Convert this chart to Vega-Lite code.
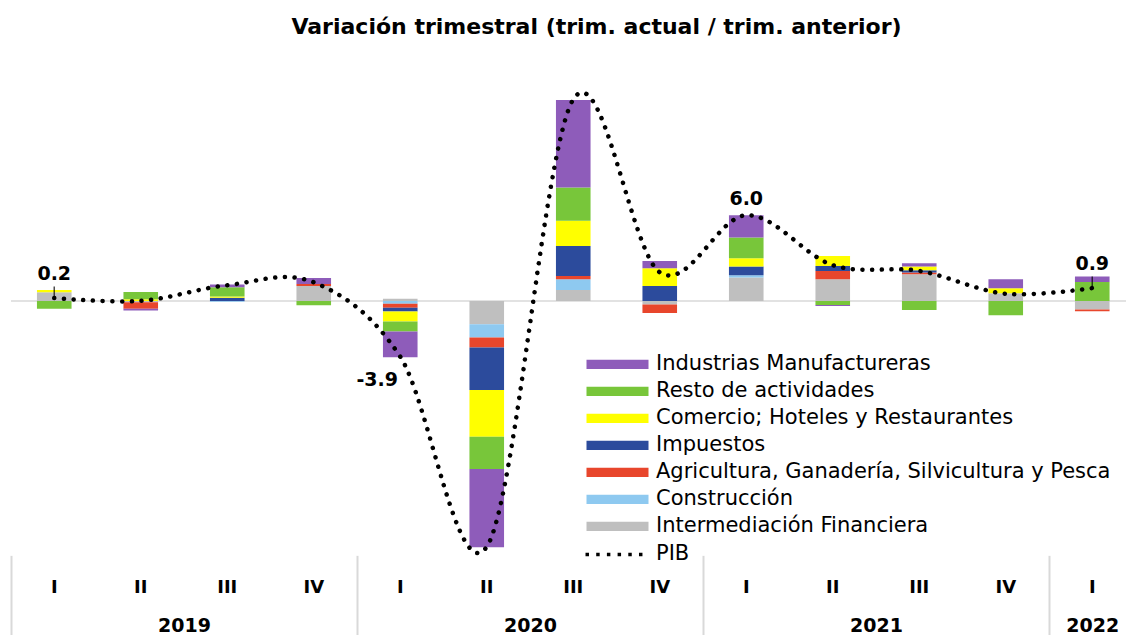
{
  "$schema": "https://vega.github.io/schema/vega-lite/v6.json",
  "autosize": {"type": "none"},
  "width": 1115,
  "height": 476,
  "padding": {"left": 11, "top": 79.35, "right": 0, "bottom": 79.65},
  "background": "white",
  "title": {"text": "Variación trimestral (trim. actual / trim. anterior)", "font": "DejaVu Sans", "fontSize": 22, "fontWeight": "bold", "color": "black", "anchor": "middle", "dx": 28, "offset": 23, "baseline": "alphabetic"},
  "config": {"view": {"stroke": null}, "font": "DejaVu Sans"},
  "datasets": {
    "componentes": [
      {"trimestre": "2019-I", "sector": "Intermediación Financiera", "valor": 0.6, "orden": 1},
      {"trimestre": "2019-I", "sector": "Comercio; Hoteles y Restaurantes", "valor": 0.17, "orden": 5},
      {"trimestre": "2019-I", "sector": "Resto de actividades", "valor": -0.55, "orden": 6},
      {"trimestre": "2019-II", "sector": "Comercio; Hoteles y Restaurantes", "valor": 0.12, "orden": 5},
      {"trimestre": "2019-II", "sector": "Resto de actividades", "valor": 0.5, "orden": 6},
      {"trimestre": "2019-II", "sector": "Intermediación Financiera", "valor": -0.1, "orden": 1},
      {"trimestre": "2019-II", "sector": "Agricultura, Ganadería, Silvicultura y Pesca", "valor": -0.45, "orden": 3},
      {"trimestre": "2019-II", "sector": "Industrias Manufactureras", "valor": -0.12, "orden": 7},
      {"trimestre": "2019-III", "sector": "Impuestos", "valor": 0.22, "orden": 4},
      {"trimestre": "2019-III", "sector": "Comercio; Hoteles y Restaurantes", "valor": 0.08, "orden": 5},
      {"trimestre": "2019-III", "sector": "Resto de actividades", "valor": 0.65, "orden": 6},
      {"trimestre": "2019-III", "sector": "Industrias Manufactureras", "valor": 0.2, "orden": 7},
      {"trimestre": "2019-III", "sector": "Construcción", "valor": -0.05, "orden": 2},
      {"trimestre": "2019-IV", "sector": "Intermediación Financiera", "valor": 1.05, "orden": 1},
      {"trimestre": "2019-IV", "sector": "Agricultura, Ganadería, Silvicultura y Pesca", "valor": 0.14, "orden": 3},
      {"trimestre": "2019-IV", "sector": "Industrias Manufactureras", "valor": 0.42, "orden": 7},
      {"trimestre": "2019-IV", "sector": "Resto de actividades", "valor": -0.3, "orden": 6},
      {"trimestre": "2020-I", "sector": "Intermediación Financiera", "valor": 0.15, "orden": 1},
      {"trimestre": "2020-I", "sector": "Construcción", "valor": -0.2, "orden": 2},
      {"trimestre": "2020-I", "sector": "Agricultura, Ganadería, Silvicultura y Pesca", "valor": -0.28, "orden": 3},
      {"trimestre": "2020-I", "sector": "Impuestos", "valor": -0.26, "orden": 4},
      {"trimestre": "2020-I", "sector": "Comercio; Hoteles y Restaurantes", "valor": -0.7, "orden": 5},
      {"trimestre": "2020-I", "sector": "Resto de actividades", "valor": -0.7, "orden": 6},
      {"trimestre": "2020-I", "sector": "Industrias Manufactureras", "valor": -1.8, "orden": 7},
      {"trimestre": "2020-II", "sector": "Intermediación Financiera", "valor": -1.63, "orden": 1},
      {"trimestre": "2020-II", "sector": "Construcción", "valor": -0.93, "orden": 2},
      {"trimestre": "2020-II", "sector": "Agricultura, Ganadería, Silvicultura y Pesca", "valor": -0.7, "orden": 3},
      {"trimestre": "2020-II", "sector": "Impuestos", "valor": -2.98, "orden": 4},
      {"trimestre": "2020-II", "sector": "Comercio; Hoteles y Restaurantes", "valor": -3.26, "orden": 5},
      {"trimestre": "2020-II", "sector": "Resto de actividades", "valor": -2.26, "orden": 6},
      {"trimestre": "2020-II", "sector": "Industrias Manufactureras", "valor": -5.48, "orden": 7},
      {"trimestre": "2020-III", "sector": "Intermediación Financiera", "valor": 0.77, "orden": 1},
      {"trimestre": "2020-III", "sector": "Construcción", "valor": 0.75, "orden": 2},
      {"trimestre": "2020-III", "sector": "Agricultura, Ganadería, Silvicultura y Pesca", "valor": 0.23, "orden": 3},
      {"trimestre": "2020-III", "sector": "Impuestos", "valor": 2.1, "orden": 4},
      {"trimestre": "2020-III", "sector": "Comercio; Hoteles y Restaurantes", "valor": 1.75, "orden": 5},
      {"trimestre": "2020-III", "sector": "Resto de actividades", "valor": 2.33, "orden": 6},
      {"trimestre": "2020-III", "sector": "Industrias Manufactureras", "valor": 6.13, "orden": 7},
      {"trimestre": "2020-IV", "sector": "Intermediación Financiera", "valor": -0.25, "orden": 1},
      {"trimestre": "2020-IV", "sector": "Agricultura, Ganadería, Silvicultura y Pesca", "valor": -0.6, "orden": 3},
      {"trimestre": "2020-IV", "sector": "Impuestos", "valor": 1.05, "orden": 4},
      {"trimestre": "2020-IV", "sector": "Comercio; Hoteles y Restaurantes", "valor": 1.24, "orden": 5},
      {"trimestre": "2020-IV", "sector": "Industrias Manufactureras", "valor": 0.51, "orden": 7},
      {"trimestre": "2021-I", "sector": "Intermediación Financiera", "valor": 1.63, "orden": 1},
      {"trimestre": "2021-I", "sector": "Construcción", "valor": 0.16, "orden": 2},
      {"trimestre": "2021-I", "sector": "Impuestos", "valor": 0.61, "orden": 4},
      {"trimestre": "2021-I", "sector": "Comercio; Hoteles y Restaurantes", "valor": 0.58, "orden": 5},
      {"trimestre": "2021-I", "sector": "Resto de actividades", "valor": 1.45, "orden": 6},
      {"trimestre": "2021-I", "sector": "Industrias Manufactureras", "valor": 1.56, "orden": 7},
      {"trimestre": "2021-II", "sector": "Intermediación Financiera", "valor": 1.52, "orden": 1},
      {"trimestre": "2021-II", "sector": "Agricultura, Ganadería, Silvicultura y Pesca", "valor": 0.58, "orden": 3},
      {"trimestre": "2021-II", "sector": "Impuestos", "valor": 0.35, "orden": 4},
      {"trimestre": "2021-II", "sector": "Comercio; Hoteles y Restaurantes", "valor": 0.7, "orden": 5},
      {"trimestre": "2021-II", "sector": "Resto de actividades", "valor": -0.28, "orden": 6},
      {"trimestre": "2021-II", "sector": "Industrias Manufactureras", "valor": -0.07, "orden": 7},
      {"trimestre": "2021-III", "sector": "Intermediación Financiera", "valor": 1.86, "orden": 1},
      {"trimestre": "2021-III", "sector": "Agricultura, Ganadería, Silvicultura y Pesca", "valor": 0.12, "orden": 3},
      {"trimestre": "2021-III", "sector": "Impuestos", "valor": 0.16, "orden": 4},
      {"trimestre": "2021-III", "sector": "Comercio; Hoteles y Restaurantes", "valor": 0.26, "orden": 5},
      {"trimestre": "2021-III", "sector": "Industrias Manufactureras", "valor": 0.23, "orden": 7},
      {"trimestre": "2021-III", "sector": "Resto de actividades", "valor": -0.63, "orden": 6},
      {"trimestre": "2021-IV", "sector": "Intermediación Financiera", "valor": 0.54, "orden": 1},
      {"trimestre": "2021-IV", "sector": "Comercio; Hoteles y Restaurantes", "valor": 0.35, "orden": 5},
      {"trimestre": "2021-IV", "sector": "Industrias Manufactureras", "valor": 0.63, "orden": 7},
      {"trimestre": "2021-IV", "sector": "Resto de actividades", "valor": -1.0, "orden": 6},
      {"trimestre": "2022-I", "sector": "Resto de actividades", "valor": 1.33, "orden": 6},
      {"trimestre": "2022-I", "sector": "Industrias Manufactureras", "valor": 0.37, "orden": 7},
      {"trimestre": "2022-I", "sector": "Intermediación Financiera", "valor": -0.6, "orden": 1},
      {"trimestre": "2022-I", "sector": "Agricultura, Ganadería, Silvicultura y Pesca", "valor": -0.12, "orden": 3}
    ],
    "pib": [
      {"trimestre": "2019-I", "serie": "PIB", "pib": 0.2, "etiqueta": "0.2"},
      {"trimestre": "2019-II", "serie": "PIB", "pib": 0.0},
      {"trimestre": "2019-III", "serie": "PIB", "pib": 1.1},
      {"trimestre": "2019-IV", "serie": "PIB", "pib": 1.3},
      {"trimestre": "2020-I", "serie": "PIB", "pib": -3.9, "etiqueta": "-3.9"},
      {"trimestre": "2020-II", "serie": "PIB", "pib": -17.2},
      {"trimestre": "2020-III", "serie": "PIB", "pib": 14.1},
      {"trimestre": "2020-IV", "serie": "PIB", "pib": 2.0},
      {"trimestre": "2021-I", "serie": "PIB", "pib": 6.0, "etiqueta": "6.0"},
      {"trimestre": "2021-II", "serie": "PIB", "pib": 2.5},
      {"trimestre": "2021-III", "serie": "PIB", "pib": 2.1},
      {"trimestre": "2021-IV", "serie": "PIB", "pib": 0.5},
      {"trimestre": "2022-I", "serie": "PIB", "pib": 0.9, "etiqueta": "0.9"}
    ],
    "anios": [
      {"anio": "2019", "centro": 2},
      {"anio": "2020", "centro": 6},
      {"anio": "2021", "centro": 10},
      {"anio": "2022", "centro": 12.5}
    ]
  },
  "layer": [
    {
      "data": {"values": [{}]},
      "mark": {"type": "rule", "color": "#d9d9d9", "strokeWidth": 1.5},
      "encoding": {"y": {"datum": 0, "type": "quantitative", "scale": {"domain": [-17.8, 15.5], "nice": false, "zero": false}, "axis": null}}
    },
    {
      "data": {"name": "componentes"},
      "mark": {"type": "bar"},
      "encoding": {
        "x": {
          "field": "trimestre", "type": "nominal",
          "scale": {"domain": ["2019-I","2019-II","2019-III","2019-IV","2020-I","2020-II","2020-III","2020-IV","2021-I","2021-II","2021-III","2021-IV","2022-I"], "range": [0, 1124.5], "paddingInner": 0.6, "paddingOuter": 0.3},
          "axis": {"orient": "bottom", "title": null, "domain": false, "ticks": false, "labelExpr": "split(datum.value, '-')[1]", "labelAngle": 0, "labelFontSize": 18, "labelFontWeight": "bold", "labelColor": "black", "labelPadding": 32, "labelBaseline": "middle"}
        },
        "y": {"field": "valor", "type": "quantitative", "stack": "zero"},
        "color": {
          "field": "sector", "type": "nominal",
          "scale": {
            "domain": ["Industrias Manufactureras", "Resto de actividades", "Comercio; Hoteles y Restaurantes", "Impuestos", "Agricultura, Ganadería, Silvicultura y Pesca", "Construcción", "Intermediación Financiera"],
            "range": ["#8e5cba", "#78c63a", "#ffff00", "#2c4b9c", "#e8462c", "#8ec9f0", "#bfbfbf"]
          },
          "legend": {"orient": "none", "legendX": 596, "legendY": 274.6, "title": null, "symbolType": "M-6.2,-0.93H6.2V0.93H-6.2Z", "symbolSize": 100, "symbolStrokeWidth": 0, "labelFontSize": 21, "labelOffset": 28, "rowPadding": 5, "padding": 0, "labelColor": "black", "labelLimit": 700}
        },
        "order": {"field": "orden", "type": "quantitative"}
      }
    },
    {
      "data": {"name": "pib"},
      "mark": {"type": "line", "interpolate": "cardinal", "strokeDash": [0.1, 9.6], "strokeCap": "round", "strokeWidth": 4.5},
      "encoding": {
        "x": {
          "field": "trimestre", "type": "nominal",
          "scale": {"domain": ["2019-I","2019-II","2019-III","2019-IV","2020-I","2020-II","2020-III","2020-IV","2021-I","2021-II","2021-III","2021-IV","2022-I"], "range": [0, 1124.5], "paddingInner": 0.6, "paddingOuter": 0.3},
          "axis": null
        },
        "y": {"field": "pib", "type": "quantitative"},
        "stroke": {
          "field": "serie", "type": "nominal",
          "scale": {"domain": ["PIB"], "range": ["black"]},
          "legend": {"orient": "none", "legendX": 596, "legendY": 464.6, "title": null, "symbolType": "M-6.398,-0.347h0.694v0.694h-0.694Z M-4.259,-0.347h0.694v0.694h-0.694Z M-2.12,-0.347h0.694v0.694h-0.694Z M0.019,-0.347h0.694v0.694h-0.694Z M2.158,-0.347h0.694v0.694h-0.694Z M4.297,-0.347h0.694v0.694h-0.694Z", "symbolSize": 100, "symbolFillColor": "black", "symbolStrokeWidth": 0, "labelFontSize": 21, "labelOffset": 28, "padding": 0, "labelColor": "black"}
        }
      }
    },
    {
      "data": {"name": "pib"},
      "transform": [{"filter": {"field": "trimestre", "oneOf": ["2019-I", "2022-I"]}}],
      "mark": {"type": "tick", "orient": "vertical", "size": 11, "thickness": 1.5, "color": "black", "yOffset": -6},
      "encoding": {
        "x": {
          "field": "trimestre", "type": "nominal",
          "scale": {"domain": ["2019-I","2019-II","2019-III","2019-IV","2020-I","2020-II","2020-III","2020-IV","2021-I","2021-II","2021-III","2021-IV","2022-I"], "range": [0, 1124.5], "paddingInner": 0.6, "paddingOuter": 0.3},
          "axis": null
        },
        "y": {"field": "pib", "type": "quantitative"}
      }
    },
    {
      "data": {"name": "pib"},
      "transform": [{"filter": {"field": "trimestre", "oneOf": ["2019-I", "2022-I"]}}],
      "mark": {"type": "text", "fontSize": 19, "fontWeight": "bold", "color": "black", "baseline": "alphabetic", "dy": -18},
      "encoding": {
        "x": {
          "field": "trimestre", "type": "nominal",
          "scale": {"domain": ["2019-I","2019-II","2019-III","2019-IV","2020-I","2020-II","2020-III","2020-IV","2021-I","2021-II","2021-III","2021-IV","2022-I"], "range": [0, 1124.5], "paddingInner": 0.6, "paddingOuter": 0.3},
          "axis": null
        },
        "y": {"field": "pib", "type": "quantitative"},
        "text": {"field": "etiqueta"}
      }
    },
    {
      "data": {"name": "pib"},
      "transform": [{"filter": {"field": "trimestre", "equal": "2021-I"}}],
      "mark": {"type": "text", "fontSize": 19, "fontWeight": "bold", "color": "black", "baseline": "alphabetic", "dy": -10},
      "encoding": {
        "x": {
          "field": "trimestre", "type": "nominal",
          "scale": {"domain": ["2019-I","2019-II","2019-III","2019-IV","2020-I","2020-II","2020-III","2020-IV","2021-I","2021-II","2021-III","2021-IV","2022-I"], "range": [0, 1124.5], "paddingInner": 0.6, "paddingOuter": 0.3},
          "axis": null
        },
        "y": {"field": "pib", "type": "quantitative"},
        "text": {"field": "etiqueta"}
      }
    },
    {
      "data": {"name": "pib"},
      "transform": [{"filter": {"field": "trimestre", "equal": "2020-I"}}],
      "mark": {"type": "text", "fontSize": 19, "fontWeight": "bold", "color": "black", "baseline": "alphabetic", "dy": 29, "dx": -23},
      "encoding": {
        "x": {
          "field": "trimestre", "type": "nominal",
          "scale": {"domain": ["2019-I","2019-II","2019-III","2019-IV","2020-I","2020-II","2020-III","2020-IV","2021-I","2021-II","2021-III","2021-IV","2022-I"], "range": [0, 1124.5], "paddingInner": 0.6, "paddingOuter": 0.3},
          "axis": null
        },
        "y": {"field": "pib", "type": "quantitative"},
        "text": {"field": "etiqueta"}
      }
    },
    {
      "data": {"name": "anios"},
      "mark": {"type": "text", "opacity": 0},
      "encoding": {
        "x": {
          "field": "centro", "type": "quantitative",
          "scale": {"domain": [0, 13], "range": [0, 1124.5], "nice": false, "zero": false},
          "axis": {"orient": "bottom", "title": null, "values": [0, 2, 4, 6, 8, 10, 12, 12.5], "labelExpr": "datum.value == 2 ? '2019' : datum.value == 6 ? '2020' : datum.value == 10 ? '2021' : datum.value == 12.5 ? '2022' : ''", "domain": false, "grid": false, "tickSize": 80, "tickWidth": 2, "tickColor": {"condition": {"test": "datum.value % 4 === 0", "value": "#d9d9d9"}, "value": "transparent"}, "labelPadding": -10, "labelBaseline": "middle", "labelFontSize": 19, "labelFontWeight": "bold", "labelColor": "black", "labelFlush": false, "labelOverlap": false, "labelBound": false}
        },
        "text": {"field": "anio"}
      }
    }
  ],
  "resolve": {"scale": {"x": "independent"}, "axis": {"x": "independent"}}
}
